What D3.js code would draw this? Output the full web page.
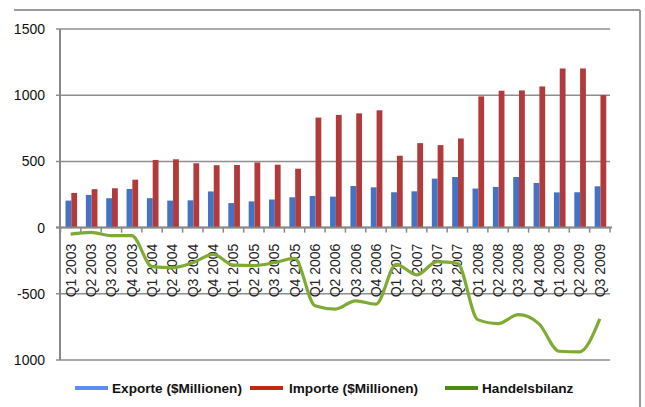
<!DOCTYPE html>
<html><head><meta charset="utf-8">
<script src="https://cdn.jsdelivr.net/npm/d3@7/dist/d3.min.js"></script>
<style>body{margin:0;background:#fff;} svg{display:block;}</style>
</head><body>
<svg id="c" width="645" height="407"></svg>
<script>
const categories = ["Q1 2003","Q2 2003","Q3 2003","Q4 2003","Q1 2004","Q2 2004","Q3 2004","Q4 2004",
  "Q1 2005","Q2 2005","Q3 2005","Q4 2005","Q1 2006","Q2 2006","Q3 2006","Q4 2006",
  "Q1 2007","Q2 2007","Q3 2007","Q4 2007","Q1 2008","Q2 2008","Q3 2008","Q4 2008",
  "Q1 2009","Q2 2009","Q3 2009"];
const exporte = [204,247,222,292,222,204,206,273,185,198,212,229,239,234,314,304,267,274,370,382,295,307,382,337,266,267,312];
const importe = [262,290,297,362,511,516,486,471,473,492,475,445,831,851,863,886,543,638,623,673,991,1034,1036,1066,1202,1202,1001];
const handelsbilanz = [-49,-36,-61,-61,-295,-302,-265,-202,-284,-287,-265,-232,-590,-615,-553,-578,-277,-357,-257,-269,-695,-725,-658,-725,-934,-938,-690];
const yTickValues = [-1000,-500,0,500,1000,1500];
const yTickLabels = ["1000","-500","0","500","1000","1500"];
const seriesNames = ["Exporte ($Millionen)","Importe ($Millionen)","Handelsbilanz"];

const svg = d3.select("#c");
const font = "'Liberation Sans', Arial, sans-serif";

// frame
svg.append("line").attr("x1",14).attr("x2",640).attr("y1",10).attr("y2",10).attr("stroke","#9a9a9a").attr("stroke-width",2);
svg.append("line").attr("x1",640).attr("x2",640).attr("y1",10).attr("y2",407).attr("stroke","#9a9a9a").attr("stroke-width",2);

const x = d3.scaleBand().domain(categories).range([60.5,610]).paddingInner(0).paddingOuter(0);
const y = d3.scaleLinear().domain([-1000,1500]).range([360,29]);
const bw = x.bandwidth();
const sub = d3.scaleBand().domain(["e","i"]).range([5,16.6]);

// gridlines
svg.append("g").selectAll("line").data(yTickValues).join("line")
  .attr("x1",56).attr("x2",610).attr("y1",d=>y(d)).attr("y2",d=>y(d))
  .attr("stroke","#8e8e8e").attr("stroke-width",1.5);

// y labels
svg.append("g").selectAll("text").data(yTickValues).join("text")
  .attr("x",45).attr("y",d=>y(d)+5).attr("text-anchor","end")
  .attr("font-family",font).attr("font-size",14).attr("fill","#111")
  .text((d,i)=>yTickLabels[i]);

// bars
const g = svg.append("g");
g.selectAll("rect.e").data(exporte).join("rect").attr("class","e")
  .attr("x",(d,i)=>x(categories[i])+sub("e")).attr("width",sub.bandwidth())
  .attr("y",d=>y(d)).attr("height",d=>y(0)-y(d)).attr("fill","#4472c4");
g.selectAll("rect.i").data(importe).join("rect").attr("class","i")
  .attr("x",(d,i)=>x(categories[i])+sub("i")).attr("width",sub.bandwidth())
  .attr("y",d=>y(d)).attr("height",d=>y(0)-y(d)).attr("fill","#b13a3a");

// left axis
svg.append("line").attr("x1",60).attr("x2",60).attr("y1",29).attr("y2",360).attr("stroke","#888").attr("stroke-width",2);
// x axis at 0
svg.append("line").attr("x1",56).attr("x2",612).attr("y1",y(0)).attr("y2",y(0)).attr("stroke","#888").attr("stroke-width",2);
const bounds = categories.map(c=>x(c)).concat([x(categories[categories.length-1])+bw]);
svg.append("g").selectAll("line").data(bounds).join("line")
  .attr("x1",d=>d).attr("x2",d=>d).attr("y1",y(0)).attr("y2",y(0)+5)
  .attr("stroke","#888").attr("stroke-width",1.5);

// category labels
svg.append("g").selectAll("text").data(categories).join("text")
  .attr("transform",d=>`translate(${x(d)+bw/2+5},${y(0)+16}) rotate(-90)`)
  .attr("text-anchor","end")
  .attr("font-family",font).attr("font-size",14).attr("fill","#222")
  .text(d=>d);

// line
const line = d3.line().x((d,i)=>x(categories[i])+bw/2).y(d=>y(d)).curve(d3.curveMonotoneX);
svg.append("path").datum(handelsbilanz).attr("d",line).attr("fill","none")
  .attr("stroke","#7fab34").attr("stroke-width",3.2).attr("stroke-linejoin","round");

// legend
const legend = [
  {name:seriesNames[0], color:"#5b8ef0", x1:75, x2:108, tx:112},
  {name:seriesNames[1], color:"#c0290f", x1:250, x2:283, tx:289},
  {name:seriesNames[2], color:"#4f8a10", x1:445, x2:478, tx:482}
];
const lg = svg.append("g");
lg.selectAll("line").data(legend).join("line")
  .attr("x1",d=>d.x1).attr("x2",d=>d.x2).attr("y1",388).attr("y2",388)
  .attr("stroke",d=>d.color).attr("stroke-width",4);
lg.selectAll("text").data(legend).join("text")
  .attr("x",d=>d.tx).attr("y",392.5).attr("font-family",font).attr("font-weight","bold")
  .attr("font-size",13.6).attr("fill","#111").text(d=>d.name);
</script>
</body></html>
